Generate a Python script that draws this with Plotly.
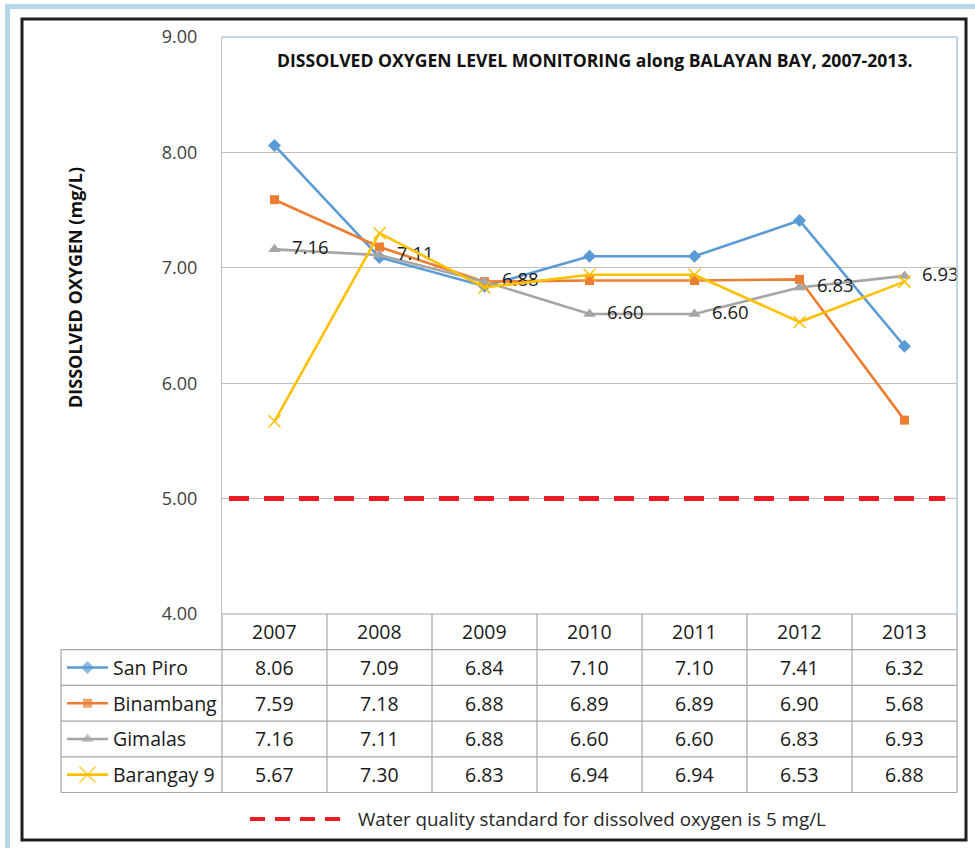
import plotly.graph_objects as go

# ---------------- data ----------------
YEARS = ["2007", "2008", "2009", "2010", "2011", "2012", "2013"]
SERIES_NAMES = ["San Piro", "Binambang", "Gimalas", "Barangay 9"]
SAN_PIRO = [8.06, 7.09, 6.84, 7.10, 7.10, 7.41, 6.32]
BINAMBANG = [7.59, 7.18, 6.88, 6.89, 6.89, 6.90, 5.68]
GIMALAS = [7.16, 7.11, 6.88, 6.60, 6.60, 6.83, 6.93]
BARANGAY_9 = [5.67, 7.30, 6.83, 6.94, 6.94, 6.53, 6.88]
STANDARD = 5.0
Y_TICKS = [4, 5, 6, 7, 8, 9]
TITLE = "DISSOLVED OXYGEN LEVEL MONITORING along BALAYAN BAY, 2007-2013."
Y_TITLE = "DISSOLVED OXYGEN (mg/L)"
STANDARD_LABEL = "Water quality standard for dissolved oxygen is 5 mg/L"

# ---------------- styles ----------------
W, H = 975, 848
FONT = "Open Sans"
COLORS = ["#5b9bd5", "#ed7d31", "#a5a5a5", "#ffc000"]
SYMBOLS = ["diamond", "square", "triangle-up", "x-thin"]
MSIZES = [10, 9, 11, 12]
SHOW_LABELS = [False, False, True, False]
VALUES = [SAN_PIRO, BINAMBANG, GIMALAS, BARANGAY_9]
RED = "#ed1c24"

# plot area in pixels
PX_L, PX_R, PX_T, PX_B = 222, 957, 37, 614
ROW_H = 35.7
LEG_L = 61
GRID = "#bfbfbf"
TABLE_LINE = "#a6a6a6"

fig = go.Figure()

for name, vals, col, sym, ms, lab in zip(SERIES_NAMES, VALUES, COLORS, SYMBOLS, MSIZES, SHOW_LABELS):
    fig.add_trace(go.Scatter(
        x=YEARS, y=vals, name=name,
        mode="lines+markers+text" if lab else "lines+markers",
        line=dict(color=col, width=2.6),
        marker=dict(symbol=sym, size=ms, color=col,
                    line=dict(color=col, width=1.5 if sym == "x-thin" else 0)),
        text=["\u00a0\u00a0" + f"{v:.2f}" for v in vals] if lab else None,
        textposition="middle right",
        textfont=dict(family=FONT, size=18.5, color="#1a1a1a"),
        cliponaxis=False, showlegend=False,
    ))

# legend samples inside the table (overlay pixel axes)
n_rows = len(SERIES_NAMES)
for i, (col, sym, ms) in enumerate(zip(COLORS, SYMBOLS, MSIZES)):
    yc = PX_B + ROW_H * (i + 1.5)
    fig.add_trace(go.Scatter(
        x=[67, 87.5, 108], y=[yc, yc, yc], xaxis="x2", yaxis="y2",
        mode="lines+markers",
        line=dict(color=col, width=2.6),
        marker=dict(symbol=sym, size=[0, ms + (4 if sym == "x-thin" else 0), 0], color=col,
                    line=dict(color=col, width=1.5 if sym == "x-thin" else 0)),
        showlegend=False, hoverinfo="skip", cliponaxis=False,
    ))

# bottom legend sample for the standard
fig.add_trace(go.Scatter(
    x=[250, 340], y=[819, 819], xaxis="x2", yaxis="y2", mode="lines",
    line=dict(color=RED, width=4, dash="15px,10px"),
    showlegend=False, hoverinfo="skip",
))

shapes = []
annotations = []

# outer light blue L
shapes.append(dict(type="rect", xref="x2", yref="y2", x0=5, x1=10, y0=4, y1=H,
                   fillcolor="#b7d6ea", line=dict(width=0), layer="below"))
shapes.append(dict(type="rect", xref="x2", yref="y2", x0=5, x1=W, y0=4, y1=9,
                   fillcolor="#b7d6ea", line=dict(width=0), layer="below"))
# black frame
shapes.append(dict(type="rect", xref="x2", yref="y2", x0=22, x1=966, y0=19, y1=840,
                   line=dict(color="#1e1e1e", width=3)))
# plot area border (light blue top & right)
shapes.append(dict(type="line", xref="x2", yref="y2", x0=PX_L, x1=PX_R, y0=PX_T, y1=PX_T,
                   line=dict(color="#a9c9e2", width=1.5)))
shapes.append(dict(type="line", xref="x2", yref="y2", x0=PX_R, x1=PX_R, y0=PX_T, y1=PX_B,
                   line=dict(color="#a9c9e2", width=1.5)))

# standard dashed line
shapes.append(dict(type="line", xref="x domain", yref="y", x0=0.0095, x1=0.984,
                   y0=STANDARD, y1=STANDARD,
                   line=dict(color=RED, width=5, dash="20px,15px")))

# data table
ncol = len(YEARS)
col_w = (PX_R - PX_L) / ncol
tbl_bottom = PX_B + ROW_H * (n_rows + 1)
for k in range(n_rows + 2):
    y = PX_B + ROW_H * k
    x0 = PX_L if k == 0 else LEG_L
    shapes.append(dict(type="line", xref="x2", yref="y2", x0=x0, x1=PX_R, y0=y, y1=y,
                       line=dict(color=TABLE_LINE, width=1.2)))
shapes.append(dict(type="line", xref="x2", yref="y2", x0=LEG_L, x1=LEG_L,
                   y0=PX_B + ROW_H, y1=tbl_bottom, line=dict(color=TABLE_LINE, width=1.2)))
for c in range(ncol + 1):
    x = PX_L + col_w * c
    shapes.append(dict(type="line", xref="x2", yref="y2", x0=x, x1=x,
                       y0=PX_B, y1=tbl_bottom, line=dict(color=TABLE_LINE, width=1.2)))

TXT = "#1a1a1a"
for c, yr in enumerate(YEARS):
    annotations.append(dict(xref="x2", yref="y2", x=PX_L + col_w * (c + 0.5), y=PX_B + ROW_H * 0.5,
                            text=yr, showarrow=False, font=dict(family=FONT, size=19.5, color=TXT)))
for i, (name, vals) in enumerate(zip(SERIES_NAMES, VALUES)):
    yc = PX_B + ROW_H * (i + 1.5)
    annotations.append(dict(xref="x2", yref="y2", x=111, y=yc, xanchor="left",
                            text=name, showarrow=False, font=dict(family=FONT, size=19.5, color=TXT)))
    for c, v in enumerate(vals):
        annotations.append(dict(xref="x2", yref="y2", x=PX_L + col_w * (c + 0.5), y=yc,
                                text=f"{v:.2f}", showarrow=False,
                                font=dict(family=FONT, size=19.5, color=TXT)))

annotations.append(dict(xref="x2", yref="y2", x=594, y=60, text=f"<b>{TITLE}</b>",
                        showarrow=False, font=dict(family=FONT, size=17.6, color="#111111")))
annotations.append(dict(xref="x2", yref="y2", x=75, y=288, text=f"<b>{Y_TITLE}</b>",
                        textangle=-90, showarrow=False,
                        font=dict(family=FONT, size=18, color="#111111")))
annotations.append(dict(xref="x2", yref="y2", x=356, y=819, xanchor="left", text=STANDARD_LABEL,
                        showarrow=False, font=dict(family=FONT, size=18.8, color="#262626")))

fig.update_layout(
    width=W, height=H, autosize=False,
    margin=dict(l=0, r=0, t=0, b=0, pad=0, autoexpand=False),
    paper_bgcolor="white", plot_bgcolor="rgba(0,0,0,0)",
    showlegend=False,
    xaxis=dict(domain=[PX_L / W, PX_R / W], type="category", range=[-0.5, len(YEARS) - 0.5],
               showticklabels=False, showgrid=False, zeroline=False, showline=False, ticks="",
               automargin=False),
    yaxis=dict(domain=[1 - PX_B / H, 1 - PX_T / H], range=[min(Y_TICKS), max(Y_TICKS)],
               tickvals=Y_TICKS, tickformat=".2f", showgrid=True, gridcolor=GRID, gridwidth=1,
               zeroline=False, showline=True, linecolor=GRID, linewidth=1,
               ticks="", ticklabelstandoff=20, automargin=False,
               tickfont=dict(family=FONT, size=18, color="#404040")),
    xaxis2=dict(domain=[0, 1], range=[0, W], visible=False, anchor="y2", fixedrange=True,
                automargin=False),
    yaxis2=dict(domain=[0, 1], range=[H, 0], visible=False, anchor="x2", fixedrange=True,
                automargin=False),
    shapes=shapes,
    annotations=annotations,
)

fig.write_html("out.html", config={"displayModeBar": False},
               post_script="document.body.style.margin='0';document.body.style.overflow='hidden';")
